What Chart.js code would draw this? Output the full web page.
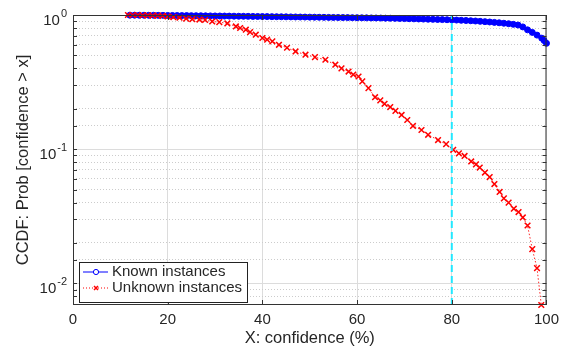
<!DOCTYPE html>
<html>
<head>
<meta charset="utf-8">
<script src="https://cdn.jsdelivr.net/npm/chart.js@4.4.0/dist/chart.umd.min.js"></script>
<style>
  html, body { margin: 0; padding: 0; background: #fff; }
</style>
</head>
<body>
<canvas id="ccdf" width="565" height="349"></canvas>
<script>
// Known instances (blue circles, solid line)
const knownX = [12, 13, 14, 15, 16, 17, 18, 19, 20, 21,
    22, 23, 24, 25, 26, 27, 28, 29, 30, 31,
    32, 33, 34, 35, 36, 37, 38, 39, 40, 41,
    42, 43, 44, 45, 46, 47, 48, 49, 50, 51,
    52, 53, 54, 55, 56, 57, 58, 59, 60, 61,
    62, 63, 64, 65, 66, 67, 68, 69, 70, 71,
    72, 73, 74, 75, 76, 77, 78, 79, 80, 81,
    82, 83, 84, 85, 86, 87, 88, 89, 90, 91,
    92, 93, 94, 95, 96, 97, 98, 99, 99.5, 100];
const knownY = [0.997, 0.997, 0.996, 0.996, 0.995, 0.995, 0.994, 0.994, 0.993, 0.992,
    0.991, 0.990, 0.990, 0.989, 0.988, 0.987, 0.986, 0.985, 0.984, 0.983,
    0.982, 0.981, 0.980, 0.979, 0.978, 0.977, 0.976, 0.975, 0.974, 0.973,
    0.972, 0.971, 0.970, 0.969, 0.968, 0.967, 0.966, 0.965, 0.964, 0.963,
    0.962, 0.961, 0.960, 0.959, 0.958, 0.957, 0.956, 0.955, 0.954, 0.953,
    0.952, 0.951, 0.950, 0.949, 0.947, 0.946, 0.944, 0.942, 0.940, 0.938,
    0.936, 0.934, 0.932, 0.930, 0.928, 0.926, 0.924, 0.922, 0.920, 0.917,
    0.913, 0.910, 0.906, 0.902, 0.897, 0.892, 0.887, 0.881, 0.875, 0.868,
    0.861, 0.852, 0.842, 0.815, 0.775, 0.742, 0.708, 0.672, 0.645, 0.615];

// Unknown instances (red crosses, dotted line)
const unknownX = [11.6, 12.6, 13.7, 14.7, 15.8, 16.8, 17.9, 18.9, 20.0, 21.2,
    22.5, 23.9, 25.2, 26.7, 27.9, 29.4, 30.9, 32.6, 34.4, 35.3,
    36.5, 37.4, 38.6, 40.0, 41.0, 42.1, 43.5, 45.2, 47.0, 49.1,
    51.1, 53.3, 55.4, 56.7, 58.2, 59.2, 60.3, 61.1, 62.4, 63.8,
    64.9, 65.8, 67.0, 68.1, 69.4, 70.6, 71.8, 73.6, 75.0, 77.1,
    78.8, 80.3, 81.5, 82.7, 84.1, 85.1, 85.9, 87.0, 88.0, 89.0,
    90.1, 91.0, 92.0, 93.1, 94.1, 95.0, 96.0, 97.0, 98.0, 98.9];
const unknownY = [1.0, 1.0, 1.0, 0.995, 0.995, 0.99, 0.99, 0.985, 0.975, 0.965,
    0.955, 0.94, 0.93, 0.925, 0.918, 0.895, 0.885, 0.865, 0.822, 0.80,
    0.777, 0.745, 0.713, 0.674, 0.655, 0.636, 0.60, 0.57, 0.535, 0.506,
    0.485, 0.464, 0.426, 0.40, 0.379, 0.36, 0.348, 0.32, 0.285, 0.244,
    0.231, 0.218, 0.206, 0.193, 0.180, 0.165, 0.149, 0.139, 0.128, 0.117,
    0.109, 0.099, 0.093, 0.089, 0.081, 0.077, 0.073, 0.067, 0.062, 0.055,
    0.048, 0.043, 0.040, 0.036, 0.034, 0.031, 0.027, 0.018, 0.013, 0.0069];

const thresholdX = 80;
const yMin = 0.0069;
const yMax = 1;
const yTickValues = [1, 0.1, 0.01];
const yTickExps = ['0', '-1', '-2'];
const legendLabels = ['Known instances', 'Unknown instances'];

const FONT = '"Liberation Sans", Arial, Helvetica, sans-serif';
const TEXT = '#262626';

function toPoints(xs, ys) {
    return xs.map(function (x, i) { return { x: x, y: ys[i] }; });
}

// box, inward ticks, y labels with superscripts, legend
const decor = {
    id: 'decor',
    afterDatasetsDraw(chart) {
        const ctx = chart.ctx, a = chart.chartArea;
        const xs = chart.scales.x, ys = chart.scales.y;
        ctx.save();
        ctx.strokeStyle = '#333';
        ctx.lineWidth = 1;
        ctx.beginPath();
        ys.ticks.forEach(function (t) {
            const p = Math.round(ys.getPixelForValue(t.value)) + 0.5;
            if (p < a.top || p > a.bottom) return;
            ctx.moveTo(a.left, p); ctx.lineTo(a.left + 4, p);
            ctx.moveTo(a.right, p); ctx.lineTo(a.right - 4, p);
        });
        xs.ticks.forEach(function (t) {
            const p = Math.round(xs.getPixelForValue(t.value)) + 0.5;
            ctx.moveTo(p, a.bottom); ctx.lineTo(p, a.bottom - 5);
            ctx.moveTo(p, a.top); ctx.lineTo(p, a.top + 5);
        });
        ctx.stroke();
        ctx.strokeRect(a.left + 0.5, a.top + 0.5, a.right - a.left - 1, a.bottom - a.top - 1);
        ctx.restore();
    },
    afterDraw(chart) {
        const ctx = chart.ctx;
        const ys = chart.scales.y;
        ctx.save();
        ctx.fillStyle = TEXT;
        // y tick labels 10^n
        yTickValues.forEach(function (v, i) {
            const py = ys.getPixelForValue(v);
            ctx.font = '11px ' + FONT;
            const sw = ctx.measureText(yTickExps[i]).width;
            ctx.textAlign = 'left';
            ctx.textBaseline = 'alphabetic';
            ctx.fillText(yTickExps[i], 67 - sw, py + 2);
            ctx.font = '15px ' + FONT;
            ctx.textAlign = 'right';
            ctx.fillText('10', 66 - sw, py + 10);
        });

        // legend
        const L = 79.5, T = 262.5, W = 168, H = 40;
        ctx.fillStyle = '#fff';
        ctx.fillRect(L, T, W, H);
        ctx.strokeStyle = '#222';
        ctx.lineWidth = 1;
        ctx.strokeRect(L, T, W, H);
        const rows = [272, 288];
        // known
        ctx.strokeStyle = '#0000ff';
        ctx.beginPath();
        ctx.moveTo(83, rows[0]); ctx.lineTo(108, rows[0]);
        ctx.stroke();
        ctx.fillStyle = '#fff';
        ctx.beginPath();
        ctx.arc(96, rows[0], 2.6, 0, Math.PI * 2);
        ctx.fill(); ctx.stroke();
        // unknown
        ctx.strokeStyle = '#ff0000';
        ctx.setLineDash([1, 2]);
        ctx.beginPath();
        ctx.moveTo(83, rows[1]); ctx.lineTo(108, rows[1]);
        ctx.stroke();
        ctx.setLineDash([]);
        ctx.lineWidth = 1.5;
        ctx.beginPath();
        ctx.moveTo(94, rows[1] - 2); ctx.lineTo(98, rows[1] + 2);
        ctx.moveTo(98, rows[1] - 2); ctx.lineTo(94, rows[1] + 2);
        ctx.stroke();
        ctx.fillStyle = TEXT;
        ctx.font = '15px ' + FONT;
        ctx.textAlign = 'left';
        ctx.textBaseline = 'middle';
        ctx.fillText(legendLabels[0], 112, rows[0]);
        ctx.fillText(legendLabels[1], 112, rows[1]);
        ctx.restore();
    }
};

new Chart(document.getElementById('ccdf').getContext('2d'), {
    type: 'scatter',
    data: {
        datasets: [{
            label: 'threshold',
            data: [{ x: thresholdX, y: yMin }, { x: thresholdX, y: yMax }],
            showLine: true,
            borderColor: '#22e8ff',
            borderWidth: 2,
            borderDash: [7, 4],
            pointRadius: 0,
            order: 0
        }, {
            label: legendLabels[1],
            data: toPoints(unknownX, unknownY),
            showLine: true,
            borderColor: 'rgba(255,0,0,0.85)',
            borderWidth: 1,
            borderDash: [1.5, 2],
            pointStyle: 'crossRot',
            pointRadius: 4,
            pointBorderWidth: 1.5,
            pointBorderColor: '#ff0000',
            clip: false,
            order: 1
        }, {
            label: legendLabels[0],
            data: toPoints(knownX, knownY),
            showLine: true,
            borderColor: '#0000ff',
            borderWidth: 1,
            pointStyle: 'circle',
            pointRadius: 3,
            pointBorderWidth: 1,
            pointBorderColor: '#0000ff',
            pointBackgroundColor: '#0000ff',
            clip: false,
            order: 2
        }]
    },
    options: {
        responsive: false,
        animation: false,
        events: [],
        layout: { padding: { left: 0, top: 15, right: 16, bottom: 0 } },
        plugins: {
            legend: { display: false },
            tooltip: { enabled: false }
        },
        scales: {
            x: {
                type: 'linear',
                min: 0,
                max: 100,
                ticks: { stepSize: 20, padding: 6, color: TEXT, font: { family: FONT, size: 15 } },
                grid: { color: '#dcdcdc', lineWidth: 1, drawTicks: false },
                border: { display: false },
                title: {
                    display: true,
                    text: 'X: confidence (%)',
                    color: TEXT,
                    font: { family: FONT, size: 16.5 },
                    padding: { top: 0, bottom: 1 }
                },
                afterFit: function (s) { s.height = 44; }
            },
            y: {
                type: 'logarithmic',
                position: 'left',
                min: yMin,
                max: yMax,
                ticks: { display: false, autoSkip: false },
                grid: {
                    drawTicks: false,
                    lineWidth: 1,
                    color: function (c) { return c.tick && c.tick.major ? '#dcdcdc' : 'rgba(0,0,0,0)'; }
                },
                border: { display: false },
                title: {
                    display: true,
                    text: 'CCDF: Prob [confidence > x]',
                    color: TEXT,
                    font: { family: FONT, size: 16.5 },
                    padding: { top: 14, bottom: 0 }
                },
                afterFit: function (s) { s.width = 73; }
            },
            yMinor: {
                type: 'logarithmic',
                position: 'left',
                min: yMin,
                max: yMax,
                ticks: { display: false, autoSkip: false },
                grid: {
                    drawTicks: false,
                    lineWidth: 1,
                    color: function (c) {
                        if (!c.tick || c.tick.major) return 'rgba(0,0,0,0)';
                        return c.tick.value <= yMin ? 'rgba(0,0,0,0)' : '#cccccc';
                    }
                },
                border: { display: false, dash: [1, 2] },
                afterFit: function (s) { s.width = 0; }
            }
        }
    },
    plugins: [decor]
});
</script>
</body>
</html>
